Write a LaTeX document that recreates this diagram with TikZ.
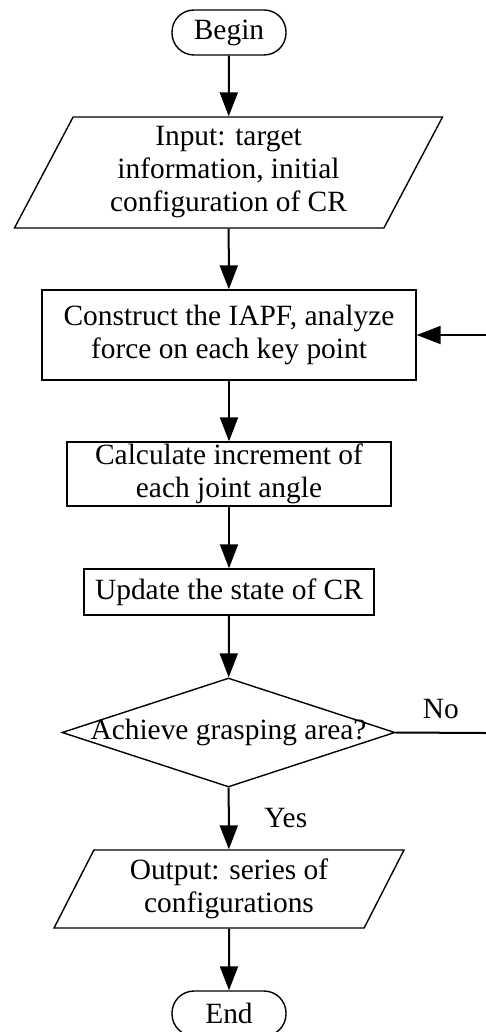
\documentclass[tikz,border=0pt]{standalone}
\usepackage{fontspec}
\setmainfont{Liberation Serif}
\usetikzlibrary{shapes.geometric,arrows.meta}
\tikzset{
  flowbox/.style={draw, line width=0.7pt, inner sep=0pt, align=center},
  startstop/.style={flowbox, rounded corners=11pt, minimum width=57pt, minimum height=22.5pt},
  iobox/.style={flowbox, trapezium, trapezium left angle=64, trapezium right angle=116,
    trapezium stretches=true},
  decision/.style={flowbox, diamond, aspect=3},
  flowarrow/.style={line width=1pt, -{Triangle[length=12pt,width=9pt]}}
}
\begin{document}
\begin{tikzpicture}[x=0.5pt, y=-0.5pt, font=\fontsize{14.7pt}{16.5pt}\selectfont]
    \useasboundingbox (0,0) rectangle (486,1032);

    \node[startstop] (begin) at (229,32.5) {Begin};
    \node[iobox, minimum width=214.5pt, minimum height=55.5pt] (input) at (228.5,172.5)
        {Input: target\\information, initial\\configuration of CR};
    \node[flowbox, minimum width=187pt, minimum height=45pt] (construct) at (229,335)
        {Construct the IAPF, analyze\\force on each key point};
    \node[flowbox, minimum width=162pt, minimum height=32pt] (calc) at (229,474)
        {Calculate increment of\\each joint angle};
    \node[flowbox, minimum width=145pt, minimum height=23pt] (update) at (229,592)
        {Update the state of CR};
    \node[decision, minimum width=166.5pt, minimum height=54.5pt] (check) at (228.5,732.5)
        {\makebox[0pt]{Achieve grasping area?}};
    \node[iobox, minimum width=175pt, minimum height=39pt] (output) at (229,889)
        {Output: series of\\configurations};
    \node[startstop] (end) at (229,1013.5) {End};

    \coordinate (noend) at (486,733);
    \coordinate (loopin) at (486,335);

    \draw[flowarrow] (begin) -- (input);
    \draw[flowarrow] (input) -- (construct);
    \draw[flowarrow] (construct) -- (calc);
    \draw[flowarrow] (calc) -- (update);
    \draw[flowarrow] (update) -- (check);
    \draw[flowarrow] (check) -- node[right=14pt] {Yes} (output);
    \draw[flowarrow] (output) -- (end);
    \draw[line width=1pt] (check.east) -- node[above=3pt] {No} (noend);
    \draw[flowarrow] (loopin) -- (construct.east);
\end{tikzpicture}
\end{document}
